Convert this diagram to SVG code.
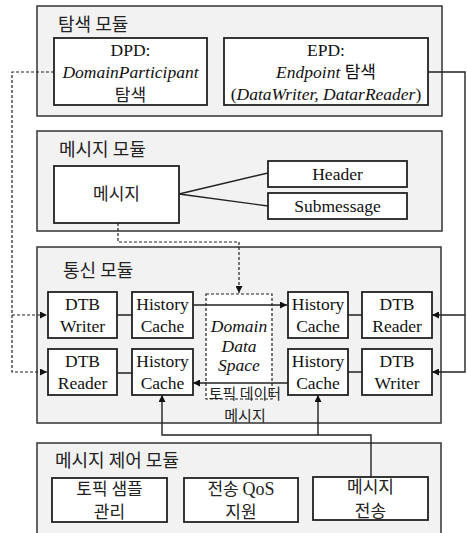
<svg xmlns="http://www.w3.org/2000/svg" width="467" height="533" viewBox="0 0 467 533">
<style>
.mod{fill:#f2f2f2;stroke:#333;stroke-width:1.5}
.box{fill:#fff;stroke:#222;stroke-width:1.8}
.dds{fill:#fff;stroke:#222;stroke-width:1.2;stroke-dasharray:3 2}
.en{font-family:'Liberation Serif','Times New Roman',serif;font-size:17.5px;fill:#111;text-anchor:middle}
.it{font-style:italic}
.ko{font-family:'Noto Sans CJK KR',sans-serif;font-size:17px;fill:#222;text-anchor:middle}
.ttl{font-family:'Noto Sans CJK KR',sans-serif;font-size:18px;fill:#222}
.ln{fill:none;stroke:#222;stroke-width:1.4}
.dl{fill:none;stroke:#222;stroke-width:1.2;stroke-dasharray:3 2}
</style>
<defs>
<marker id="ah" viewBox="0 0 10 10" refX="10" refY="5" markerWidth="9" markerHeight="7" markerUnits="userSpaceOnUse" orient="auto"><path d="M0,0L10,5L0,10z" fill="#111"/></marker>
</defs>
<g id="mod-discovery">
<rect class="mod" x="37" y="6" width="405" height="110"/>
<text class="ttl" x="58" y="31">탐색 모듈</text>
</g>
<g id="dpd">
<rect class="box" x="54" y="38" width="153" height="67"/>
<text class="en" x="130.5" y="56">DPD:</text>
<text class="en it" x="130.5" y="78">DomainParticipant</text>
<text class="ko" x="130.5" y="101">탐색</text>
</g>
<g id="epd">
<rect class="box" x="224" y="38" width="204" height="67"/>
<text class="en" x="326" y="56">EPD:</text>
<text class="en" x="326" y="78"><tspan class="it">Endpoint</tspan> <tspan style="font-family:'Noto Sans CJK KR',sans-serif;font-size:17px">탐색</tspan></text>
<text class="en" x="326" y="100">(<tspan class="it">DataWriter, DatarReader</tspan>)</text>
</g>
<g id="mod-message">
<rect class="mod" x="37" y="131" width="405" height="100"/>
<text class="ttl" x="59" y="156">메시지 모듈</text>
</g>
<g id="message">
<rect class="box" x="54" y="166" width="125" height="57"/>
<text class="ko" x="116.5" y="200">메시지</text>
</g>
<g id="header">
<rect class="box" x="268" y="161" width="139" height="26"/>
<text class="en" x="337.5" y="180">Header</text>
</g>
<g id="submessage">
<rect class="box" x="268" y="193" width="139" height="26"/>
<text class="en" x="337.5" y="212">Submessage</text>
</g>
<g id="mod-comm">
<rect class="mod" x="37" y="247" width="404" height="176"/>
<text class="ttl" x="63" y="277">통신 모듈</text>
</g>
<g id="dtb-writer-l">
<rect class="box" x="48" y="292" width="69" height="46"/>
<text class="en" x="82.5" y="310">DTB</text>
<text class="en" x="82.5" y="332">Writer</text>
</g>
<g id="hc-l1">
<rect class="box" x="132" y="292" width="61" height="46"/>
<text class="en" x="162.5" y="310">History</text>
<text class="en" x="162.5" y="332">Cache</text>
</g>
<g id="dtb-reader-l">
<rect class="box" x="48" y="349" width="69" height="46"/>
<text class="en" x="82.5" y="367">DTB</text>
<text class="en" x="82.5" y="389">Reader</text>
</g>
<g id="hc-l2">
<rect class="box" x="132" y="349" width="61" height="46"/>
<text class="en" x="162.5" y="367">History</text>
<text class="en" x="162.5" y="389">Cache</text>
</g>
<g id="dds">
<rect class="dds" x="206" y="294" width="66" height="105"/>
<text class="en it" x="239" y="332">Domain</text>
<text class="en it" x="239" y="352">Data</text>
<text class="en it" x="239" y="371">Space</text>
</g>
<g id="hc-r1">
<rect class="box" x="288" y="292" width="60" height="46"/>
<text class="en" x="318" y="310">History</text>
<text class="en" x="318" y="332">Cache</text>
</g>
<g id="dtb-reader-r">
<rect class="box" x="362" y="292" width="70" height="46"/>
<text class="en" x="397" y="310">DTB</text>
<text class="en" x="397" y="332">Reader</text>
</g>
<g id="hc-r2">
<rect class="box" x="288" y="349" width="60" height="46"/>
<text class="en" x="318" y="367">History</text>
<text class="en" x="318" y="389">Cache</text>
</g>
<g id="dtb-writer-r">
<rect class="box" x="362" y="349" width="70" height="46"/>
<text class="en" x="397" y="367">DTB</text>
<text class="en" x="397" y="389">Writer</text>
</g>
<g id="mod-control">
<rect class="mod" x="37" y="443" width="404" height="100"/>
<text class="ttl" x="55" y="467">메시지 제어 모듈</text>
</g>
<g id="topic-sample">
<rect class="box" x="52" y="478" width="115" height="44"/>
<text class="ko" x="109.5" y="495">토픽 샘플</text>
<text class="ko" x="109.5" y="518">관리</text>
</g>
<g id="qos">
<rect class="box" x="184" y="478" width="114" height="44"/>
<text class="ko" x="241" y="495">전송 <tspan style="font-family:'Liberation Serif','Times New Roman',serif;font-size:18px">QoS</tspan></text>
<text class="ko" x="241" y="518">지원</text>
</g>
<g id="msg-send">
<rect class="box" x="313" y="477" width="115" height="43"/>
<text class="ko" x="370.5" y="493">메시지</text>
<text class="ko" x="370.5" y="517">전송</text>
</g>
<g id="connectors">
<path class="dl" d="M54,72H12V372H47" marker-end="url(#ah)"/>
<path class="dl" d="M12,315H47" marker-end="url(#ah)"/>
<path class="ln" d="M428,72H465V372H432" marker-end="url(#ah)"/>
<path class="ln" d="M465,315H432" marker-end="url(#ah)"/>
<path class="ln" d="M179,194L268,173M179,194L268,206"/>
<path class="dl" d="M118,223V242H239V293" marker-end="url(#ah)"/>
<path class="ln" d="M117,315H132M117,373H132M348,315H362M348,372H362"/>
<path class="ln" d="M193,305H287" marker-end="url(#ah)"/>
<path class="ln" d="M288,383H193" marker-end="url(#ah)"/>
<path class="ln" d="M371,477V435H162V395" marker-end="url(#ah)"/>
<path class="ln" d="M318,435V395" marker-end="url(#ah)"/>
</g>
<g id="dds-label">
<text class="ko" x="245" y="399" style="font-size:15px">토픽 데이터</text>
<text class="ko" x="245" y="421" style="font-size:15px">메시지</text>
</g>
</svg>
